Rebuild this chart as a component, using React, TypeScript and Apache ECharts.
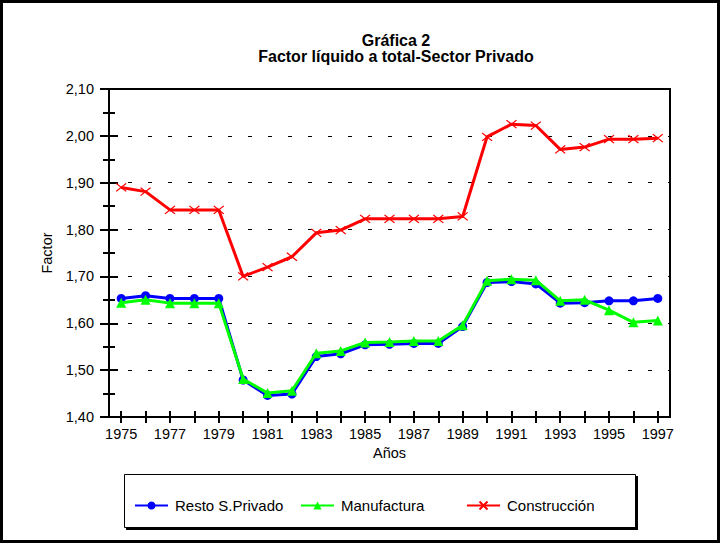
import React, { useEffect, useRef } from "react";
import * as echarts from "echarts";

const years = ["1975","1976","1977","1978","1979","1980","1981","1982","1983","1984","1985","1986","1987","1988","1989","1990","1991","1992","1993","1994","1995","1996","1997"];
const resto = [1.653,1.659,1.653,1.653,1.653,1.479,1.446,1.449,1.529,1.535,1.554,1.555,1.557,1.557,1.593,1.687,1.689,1.684,1.643,1.644,1.648,1.648,1.653];
const manuf = [1.644,1.650,1.643,1.643,1.643,1.481,1.451,1.456,1.536,1.541,1.559,1.560,1.562,1.562,1.596,1.691,1.694,1.692,1.648,1.650,1.628,1.602,1.606];
const constr = [1.890,1.881,1.842,1.842,1.842,1.700,1.720,1.742,1.793,1.799,1.823,1.823,1.823,1.823,1.828,1.998,2.025,2.022,1.971,1.976,1.993,1.993,1.995];
const seriesNames = ["Resto S.Privado", "Manufactura", "Construcción"];

const FONT = "'Liberation Sans', Arial, sans-serif";
const crossPath = "path://M0,0L10,10M10,0L0,10";

export default function App() {
  const ref = useRef<HTMLDivElement>(null);
  useEffect(() => {
    if (!ref.current) return;
    const chart = echarts.init(ref.current, null, { renderer: "svg" });
    const grid = { left: 109, top: 89, width: 561, height: 328, show: true, borderColor: "#000", borderWidth: 2, backgroundColor: "transparent" };
    const yCommon = {
      type: "value" as const, min: 1.4, max: 2.1, interval: 0.1,
    };
    chart.setOption({
      animation: false,
      backgroundColor: "#fff",
      textStyle: { fontFamily: FONT },
      title: {
        text: "Gráfica 2\nFactor líquido a total-Sector Privado",
        left: 391, top: 27, textAlign: "center",
        textStyle: { fontFamily: FONT, fontSize: 16, fontWeight: "bold", color: "#000", lineHeight: 16 },
      },
      graphic: [
        { type: "rect", z: -10, shape: { x: 1.5, y: 1.5, width: 717, height: 540 }, style: { fill: "none", stroke: "#000", lineWidth: 3 } },
        { type: "rect", z: -10, shape: { x: 126, y: 476, width: 512, height: 54 }, style: { fill: "#000" } },
        { type: "rect", z: -9, shape: { x: 124.5, y: 474.5, width: 511, height: 53 }, style: { fill: "#fff", stroke: "#000", lineWidth: 1 } },
      ],
      legend: [
        { data: [seriesNames[0]], left: 129, top: 493 },
        { data: [seriesNames[1]], left: 295, top: 493 },
        { data: [seriesNames[2]], left: 461, top: 493 },
      ].map((l) => ({
        ...l, itemWidth: 33, itemHeight: 10, itemGap: 0,
        textStyle: { fontFamily: FONT, fontSize: 15, color: "#000", padding: [0, 0, 0, 2] },
      })),
      grid,
      xAxis: [
        {
          type: "category", data: years, boundaryGap: true,
          name: "Años", nameLocation: "middle", nameGap: 22,
          nameTextStyle: { fontFamily: FONT, fontSize: 14.5, color: "#000" },
          axisLine: { lineStyle: { color: "#000", width: 2 } },
          axisTick: { show: true, alignWithLabel: true, length: 6, interval: 0, lineStyle: { color: "#000", width: 2 } },
          axisLabel: { interval: 1, margin: 9, fontFamily: FONT, fontSize: 14.5, color: "#000" },
          splitLine: { show: false },
        },
        {
          type: "category", data: years, boundaryGap: true, position: "bottom",
          axisLine: { show: false },
          axisTick: { show: true, inside: true, alignWithLabel: true, length: 6, interval: 0, lineStyle: { color: "#000", width: 2 } },
          axisLabel: { show: false },
          splitLine: { show: false },
        },
      ],
      yAxis: [
        {
          ...yCommon,
          name: "Factor", nameLocation: "middle", nameGap: 45, nameRotate: 90,
          nameTextStyle: { fontFamily: FONT, fontSize: 14.5, color: "#000" },
          axisLine: { show: true, lineStyle: { color: "#000", width: 2 } },
          axisTick: { show: true, length: 9, lineStyle: { color: "#000", width: 2 } },
          minorTick: { show: true, splitNumber: 2, length: 6, lineStyle: { color: "#000", width: 2 } },
          axisLabel: {
            margin: 15, fontFamily: FONT, fontSize: 14.5, color: "#000",
            formatter: (v: number) => v.toFixed(2).replace(".", ","),
          },
          splitLine: { show: true, lineStyle: { color: "#000", width: 1, type: [4, 16], dashOffset: 1 } },
        },
        {
          ...yCommon, position: "left",
          axisLine: { show: false },
          axisTick: { show: true, inside: true, length: 9, lineStyle: { color: "#000", width: 2 } },
          minorTick: { show: true, splitNumber: 2, length: 6, lineStyle: { color: "#000", width: 2 } },
          axisLabel: { show: false },
          splitLine: { show: false },
        },
      ],
      series: [
        {
          name: seriesNames[0], type: "line", data: resto,
          symbol: "circle", symbolSize: 9,
          lineStyle: { color: "#0000ff", width: 3 },
          itemStyle: { color: "#0000ff" },
          z: 3,
        },
        {
          name: seriesNames[1], type: "line", data: manuf,
          symbol: "triangle", symbolSize: 10,
          lineStyle: { color: "#00ff00", width: 3 },
          itemStyle: { color: "#00ff00" },
          z: 4,
        },
        {
          name: seriesNames[2], type: "line", data: constr,
          symbol: crossPath, symbolSize: [10, 8],
          lineStyle: { color: "#ff0000", width: 3 },
          itemStyle: { color: "#ff0000", borderColor: "#ff0000", borderWidth: 1.2 },
          z: 5,
        },
      ],
    });
    return () => chart.dispose();
  }, []);
  return <div ref={ref} style={{ position: "absolute", left: 0, top: 0, width: 721, height: 544 }} />;
}
